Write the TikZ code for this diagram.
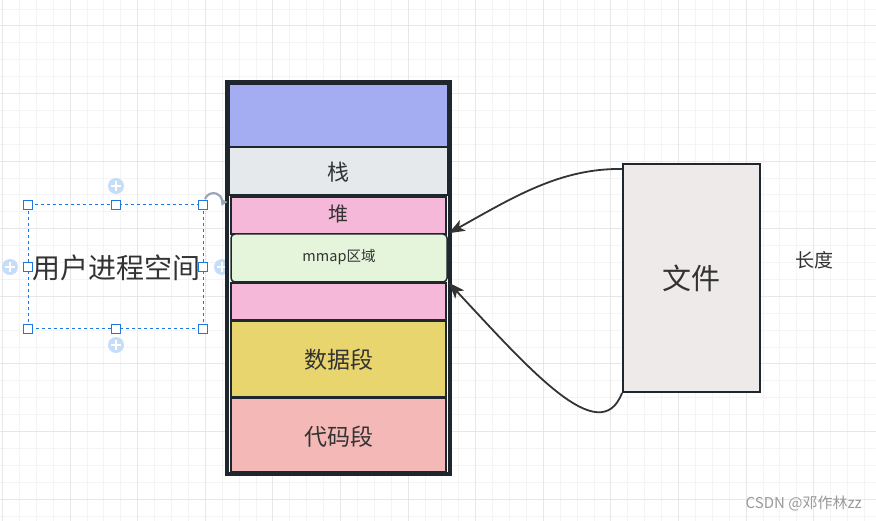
\documentclass[tikz,border=0pt]{standalone}
\usepackage{fontspec}
\newfontfamily\cjk{Noto Sans CJK SC}
\usetikzlibrary{arrows.meta}
\definecolor{gridminor}{HTML}{F4F4F4}
\definecolor{gridmajor}{HTML}{E7E7E7}
\definecolor{edge}{HTML}{1E272E}
\definecolor{txt}{HTML}{333333}
\definecolor{topblue}{HTML}{A4ACF2}
\definecolor{stackgrey}{HTML}{E6E9EC}
\definecolor{heappink}{HTML}{F5B8D9}
\definecolor{mmapgreen}{HTML}{E4F5DB}
\definecolor{datayellow}{HTML}{E8D56E}
\definecolor{codered}{HTML}{F4B9B6}
\definecolor{filegrey}{HTML}{EEEAE9}
\definecolor{selblue}{HTML}{1F78E0}
\definecolor{pluscirc}{HTML}{C6DDF8}
\definecolor{rotgrey}{HTML}{9AA6B8}
\definecolor{wm}{HTML}{9A9A9A}
\tikzset{
  block/.style={draw=edge, line width=1.5pt},
  lbl/.style={text=txt, font=\cjk, inner sep=0pt},
  conn/.style={draw=txt, line width=1.8pt, -{Stealth[length=16pt,width=12pt,inset=4pt]}},
  handle/.style={draw=selblue, fill=white, line width=1pt, minimum size=9pt, inner sep=0pt},
  plusc/.style={fill=pluscirc, circle, minimum size=16pt, inner sep=0pt},
}
\begin{document}
\begin{tikzpicture}[x=1pt,y=-1pt]
\useasboundingbox (0,0) rectangle (876,521);
\fill[white] (0,0) rectangle (876,521);
% grid
\foreach \i in {0,...,51} {\draw[gridminor, line width=1pt] ({2.5+16.9*\i},0) -- ({2.5+16.9*\i},521);}
\foreach \j in {0,...,30} {\draw[gridminor, line width=1pt] (0,{9.1+16.9*\j}) -- (876,{9.1+16.9*\j});}
\foreach \i in {0,...,12} {\draw[gridmajor, line width=1pt] ({2.5+67.6*\i},0) -- ({2.5+67.6*\i},521);}
\foreach \j in {0,...,7} {\draw[gridmajor, line width=1pt] (0,{26+67.6*\j}) -- (876,{26+67.6*\j});}

% plus circles of the selection
\foreach \n/\px/\py in {pt/116/186, pb/116/345, pl/10/267, pr/222/267} {
  \node[plusc] (\n) at (\px,\py) {};
  \draw[white, line width=1.6pt] ([xshift=-5pt]\n.center) -- ([xshift=5pt]\n.center);
  \draw[white, line width=1.6pt] ([yshift=-5pt]\n.center) -- ([yshift=5pt]\n.center);
}

% memory layout
\node[draw=edge, line width=2.6pt, fill=white, minimum width=221pt, minimum height=390pt, inner sep=0pt] (mem) at (338.5,278) {};
\node[block, fill=topblue, minimum width=219pt, minimum height=63pt, inner sep=0pt] (top) at (338.5,115.5) {};
\node[block, fill=stackgrey, minimum width=219pt, minimum height=48pt, inner sep=0pt] (stack) at (338.5,171) {};
\node[lbl, font=\cjk\fontsize{22}{22}\selectfont] (stacklbl) at (338.5,172) {栈};
\node[block, fill=heappink, minimum width=215pt, minimum height=37pt, inner sep=0pt] (heap) at (338.5,215.5) {};
\node[lbl, font=\cjk\fontsize{20}{20}\selectfont] (heaplbl) at (338.5,214) {堆};
\node[block, fill=heappink, minimum width=215pt, minimum height=37pt, inner sep=0pt] (heap2) at (338.5,301.5) {};
\node[block, fill=mmapgreen, rounded corners=4pt, minimum width=216pt, minimum height=48pt, inner sep=0pt] (mmap) at (339,258) {};
\node[lbl, font=\cjk\fontsize{14.5}{14.5}\selectfont] (mmaplbl) at (339,257) {mmap区域};
\node[block, fill=datayellow, minimum width=215pt, minimum height=76pt, inner sep=0pt] (data) at (338.5,359) {};
\node[lbl, font=\cjk\fontsize{23}{23}\selectfont] (datalbl) at (338.5,360) {数据段};
\node[block, fill=codered, minimum width=215pt, minimum height=74pt, inner sep=0pt] (code) at (338.5,435) {};
\node[lbl, font=\cjk\fontsize{23}{23}\selectfont] (codelbl) at (338.5,437) {代码段};
\draw[edge, line width=2.6pt] (mem.north west) rectangle (mem.south east);

% file
\node[draw=edge, line width=2pt, fill=filegrey, minimum width=137pt, minimum height=228pt, inner sep=0pt] (file) at (691.5,278) {};
\node[lbl, font=\cjk\fontsize{29}{29}\selectfont] (filelbl) at (691.5,278) {文件};

% connectors
\draw[conn] ([yshift=-6pt]file.north west) .. controls (560,168) and (512,198) .. ([xshift=1pt]mmap.north east);
\draw[conn] (file.south west) .. controls (600,450) and (530,370) .. ([xshift=1pt]mmap.south east);

% length label
\node[lbl, font=\cjk\fontsize{19}{19}\selectfont] (len) at (814,260) {长度};

% selected text box
\node[lbl, font=\cjk\fontsize{28}{28}\selectfont] (uspace) at (116,268) {用户进程空间};
\draw[selblue, line width=1pt, dash pattern=on 3pt off 3pt] (28,205) rectangle (203,329);
\foreach \n/\hx/\hy in {h1/28/205, h2/116/205, h3/203/205, h4/28/267, h5/203/267, h6/28/329, h7/116/329, h8/203/329} {
  \node[handle] (\n) at (\hx,\hy) {};
}
% rotate icon
\coordinate (rotc) at (214,196);
\draw[rotgrey, line width=2.2pt, -{Triangle[length=6pt,width=7pt]}] ([shift={(-9pt,-3pt)}]rotc) arc[start angle=160, end angle=-25, radius=9pt];

% watermark
\node[lbl, text=wm, font=\cjk\fontsize{15}{15}\selectfont, anchor=east] (wmark) at (862,503) {CSDN @邓作林zz};
\end{tikzpicture}
\end{document}
